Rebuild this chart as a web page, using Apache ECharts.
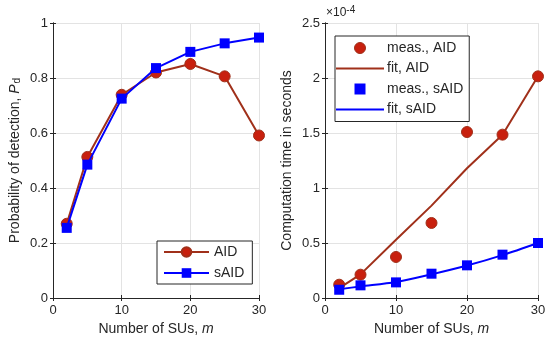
<!DOCTYPE html>
<html><head><meta charset="utf-8">
<script src="https://cdn.jsdelivr.net/npm/echarts@6/dist/echarts.min.js"></script>
<style>html,body{margin:0;padding:0;background:#fff}#c{width:550px;height:343px}</style>
</head><body><div id="c"></div>
<script>
// Data
var m = [2, 5, 10, 15, 20, 25, 30];
var pdAID = [0.270, 0.513, 0.739, 0.820, 0.851, 0.806, 0.591];
var pdSAID = [0.255, 0.485, 0.725, 0.836, 0.895, 0.926, 0.947];
// computation time, in units of 1e-4 s
var timeAIDMeas = [0.121, 0.212, 0.373, 0.682, 1.509, 1.485, 2.015];
var timeAIDFit = [0.090, 0.215, 0.530, 0.840, 1.180, 1.485, 2.015];
var timeSAIDMeas = [0.075, 0.115, 0.142, 0.221, 0.297, 0.394, 0.500];
var timeSAIDFit = [0.080, 0.105, 0.145, 0.215, 0.295, 0.390, 0.500];
var xTicks = [0, 10, 20, 30];

function pairs(xs, ys) { return xs.map(function (x, i) { return [x, ys[i]]; }); }

var FONT = 'Liberation Sans, Arial, sans-serif';
var TXT = '#262626';
var RED = '#C8200E', BROWN = '#A0301A', BLUE = '#0000FF';

function mainX(gi, name) {
  return {
    type: 'value', gridIndex: gi, min: xTicks[0], max: xTicks[xTicks.length - 1], interval: 10,
    name: name, nameLocation: 'middle', nameGap: 24,
    nameTextStyle: { color: TXT, fontFamily: FONT, fontSize: 14, rich: { i: { fontStyle: 'italic', fontSize: 14, color: TXT, fontFamily: FONT } } },
    axisLine: { show: true, lineStyle: { color: TXT, width: 1 } },
    axisTick: { show: true, inside: true, length: 3, lineStyle: { color: TXT } },
    axisLabel: { color: TXT, fontFamily: FONT, fontSize: 13, margin: 6 },
    splitLine: { show: true, lineStyle: { color: '#e3e3e3', width: 1 } }
  };
}
function mirrorX(gi) {
  return {
    type: 'value', gridIndex: gi, position: 'top', min: 0, max: 30, interval: 10,
    axisLine: { show: true, lineStyle: { color: TXT, width: 1 } },
    axisTick: { show: true, inside: true, length: 3, lineStyle: { color: TXT } },
    axisLabel: { show: false }, splitLine: { show: false }
  };
}
function mainY(gi, max, interval, name, rich) {
  return {
    type: 'value', gridIndex: gi, min: 0, max: max, interval: interval,
    name: name, nameLocation: 'middle', nameGap: 31,
    nameTextStyle: { color: TXT, fontFamily: FONT, fontSize: 14, rich: rich },
    axisLine: { show: true, lineStyle: { color: TXT, width: 1 } },
    axisTick: { show: true, inside: true, length: 3, lineStyle: { color: TXT } },
    axisLabel: { color: TXT, fontFamily: FONT, fontSize: 13, margin: 5 },
    splitLine: { show: true, lineStyle: { color: '#e3e3e3', width: 1 } }
  };
}
function mirrorY(gi, max, interval) {
  return {
    type: 'value', gridIndex: gi, position: 'right', min: 0, max: max, interval: interval,
    axisLine: { show: true, lineStyle: { color: TXT, width: 1 } },
    axisTick: { show: true, inside: true, length: 3, lineStyle: { color: TXT } },
    axisLabel: { show: false }, splitLine: { show: false }
  };
}

var LINE_ICON = 'path://M0,0L48,0L48,2L0,2Z';
var SQ_ICON = 'path://M0,0L10,0L10,10L0,10Z';

var chart = echarts.init(document.getElementById('c'), null, { renderer: 'canvas' });
var option = {
  animation: false,
  backgroundColor: '#fff',
  textStyle: { fontFamily: FONT },
  grid: [
    { left: 53, top: 23, width: 206, height: 275, containLabel: false },
    { left: 325, top: 23, width: 213, height: 275, containLabel: false }
  ],
  xAxis: [mainX(0, 'Number of SUs, {i|m}'), mirrorX(0), mainX(1, 'Number of SUs, {i|m}'), mirrorX(1)],
  yAxis: [
    mainY(0, 1, 0.2, 'Probability of detection, {i|P}{sub|d}', {
      i: { fontStyle: 'italic', fontSize: 14, color: TXT, fontFamily: FONT },
      sub: { fontSize: 10, color: TXT, fontFamily: FONT, verticalAlign: 'bottom', padding: [0, 0, 0, 1] }
    }),
    mirrorY(0, 1, 0.2),
    mainY(1, 2.5, 0.5, 'Computation time in seconds', {}),
    mirrorY(1, 2.5, 0.5)
  ],
  legend: [
    {
      left: 157, top: 241, orient: 'vertical', itemWidth: 45, itemHeight: 12, itemGap: 7,
      padding: [4, 8, 4, 6], borderColor: TXT, borderWidth: 1, backgroundColor: '#fff', borderRadius: 0,
      textStyle: { color: TXT, fontFamily: FONT, fontSize: 14 },
      data: ['AID', 'sAID']
    },
    {
      left: 335, top: 36, orient: 'vertical', itemWidth: 48, itemHeight: 11, itemGap: 6.5,
      padding: [5, 6, 5, 1], borderColor: TXT, borderWidth: 1, backgroundColor: '#fff', borderRadius: 0,
      symbolKeepAspect: true,
      textStyle: { color: TXT, fontFamily: FONT, fontSize: 14, padding: [0, 0, 0, -2] },
      data: [
        { name: 'meas., AID', icon: 'circle', itemStyle: { color: RED, borderColor: BROWN, borderWidth: 1 } },
        { name: 'fit, AID', icon: LINE_ICON, itemStyle: { color: BROWN, borderWidth: 0 } },
        { name: 'meas., sAID', icon: SQ_ICON, itemStyle: { color: BLUE, borderWidth: 0 } },
        { name: 'fit, sAID', icon: LINE_ICON, itemStyle: { color: BLUE, borderWidth: 0 } }
      ]
    }
  ],
  graphic: [
    {
      type: 'text', left: 326, top: 5,
      style: {
        text: '×10{s|-4}', fill: TXT, font: '12px ' + FONT,
        rich: { s: { fontSize: 10, fill: TXT, fontFamily: FONT, verticalAlign: 'top', padding: [0, 0, 6, 0] } }
      }
    }
  ],
  series: [
    {
      name: 'AID', type: 'line', xAxisIndex: 0, yAxisIndex: 0, data: pairs(m, pdAID),
      symbol: 'circle', symbolSize: 11, z: 3,
      lineStyle: { color: BROWN, width: 2 },
      itemStyle: { color: RED, borderColor: BROWN, borderWidth: 1 }
    },
    {
      name: 'sAID', type: 'line', xAxisIndex: 0, yAxisIndex: 0, data: pairs(m, pdSAID),
      symbol: 'rect', symbolSize: 10, z: 4,
      lineStyle: { color: BLUE, width: 2 },
      itemStyle: { color: BLUE }
    },
    {
      name: 'fit, AID', type: 'line', xAxisIndex: 2, yAxisIndex: 2, data: pairs(m, timeAIDFit),
      symbol: 'none', z: 2,
      lineStyle: { color: BROWN, width: 2 }, itemStyle: { color: BROWN }
    },
    {
      name: 'meas., AID', type: 'scatter', xAxisIndex: 2, yAxisIndex: 2, data: pairs(m, timeAIDMeas),
      symbol: 'circle', symbolSize: 11, z: 3,
      itemStyle: { color: RED, borderColor: BROWN, borderWidth: 1, opacity: 1 }
    },
    {
      name: 'fit, sAID', type: 'line', xAxisIndex: 2, yAxisIndex: 2, data: pairs(m, timeSAIDFit),
      symbol: 'none', smooth: 0.3, z: 2,
      lineStyle: { color: BLUE, width: 2 }, itemStyle: { color: BLUE }
    },
    {
      name: 'meas., sAID', type: 'scatter', xAxisIndex: 2, yAxisIndex: 2, data: pairs(m, timeSAIDMeas),
      symbol: 'rect', symbolSize: 10, z: 4,
      itemStyle: { color: BLUE, opacity: 1 }
    }
  ]
};
chart.setOption(option);
</script>
</body></html>
